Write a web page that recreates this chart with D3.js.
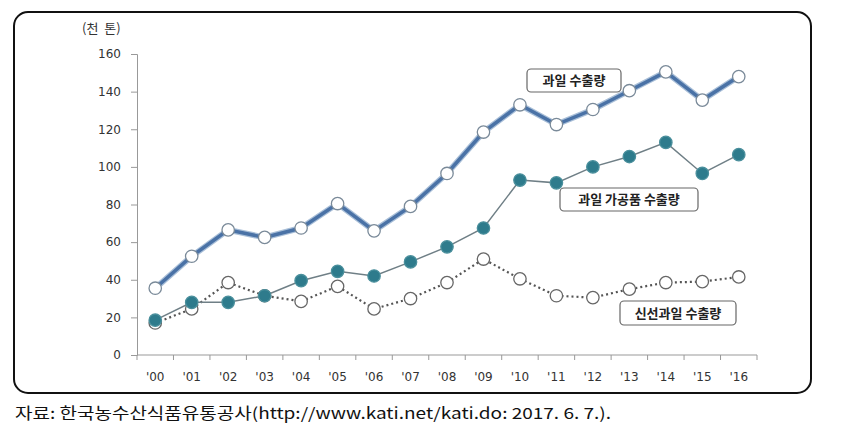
<!DOCTYPE html>
<html><head><meta charset="utf-8">
<script src="https://cdn.jsdelivr.net/npm/d3@7"></script>
<style>body{margin:0;background:#fff;}svg{display:block;}</style>
</head><body>
<svg id="c" width="841" height="447"></svg>
<script>
const years = ["'00","'01","'02","'03","'04","'05","'06","'07","'08","'09","'10","'11","'12","'13","'14","'15","'16"];
const fruitTotal = [35.5,52.5,66.5,62.5,67.5,80.5,66,79,96.5,118.5,133,122.5,130.5,140.5,150.5,135.5,148];
const fruitProcessed = [18.5,28,28,31.5,39.5,44.5,42,49.5,57.5,67.5,93,91.5,100,105.5,113,96.5,106.5];
const fruitFresh = [17,24.5,38.5,31.5,28.5,36.5,24.5,30,38.5,51,40.5,31.5,30.5,35,38.5,39,41.5];
const yTicks = [0,20,40,60,80,100,120,140,160];
const seriesNames = ["과일 수출량","과일 가공품 수출량","신선과일 수출량"];
const unitLabel = "(천  톤)";
const source = "자료:  한국농수산식품유통공사(http://www.kati.net/kati.do:  2017.  6.  7.).";

const svg = d3.select("#c");
const font = "'Noto Sans CJK KR','Noto Sans',sans-serif";

// outer frame
svg.append("rect").attr("x",14).attr("y",12).attr("width",797).attr("height",381)
  .attr("rx",14).attr("fill","#fff").attr("stroke","#111").attr("stroke-width",2);

const x = d3.scaleBand().domain(years).range([137,757]);
const y = d3.scaleLinear().domain([0,160]).range([355,54]);

// y axis
const ya = svg.append("g").attr("transform","translate(137,0)")
  .call(d3.axisLeft(y).tickValues(yTicks).tickSize(6).tickPadding(10));
ya.selectAll("path,line").attr("stroke","#999");
ya.selectAll("text").attr("font-family","'DejaVu Sans',sans-serif").attr("font-size",12).attr("fill","#333");

// x axis
const xa = svg.append("g").attr("transform","translate(0,355)");
xa.append("line").attr("x1",137).attr("x2",757).attr("stroke","#999");
const bounds = years.map(d=>x(d)).concat([x.range()[1]]);
xa.selectAll("line.t").data(bounds).join("line").attr("class","t")
  .attr("x1",d=>d).attr("x2",d=>d).attr("y1",0).attr("y2",5).attr("stroke","#999");
xa.selectAll("text").data(years).join("text")
  .attr("x",d=>x(d)+x.bandwidth()/2).attr("y",26).attr("text-anchor","middle")
  .attr("font-family","'DejaVu Sans',sans-serif").attr("font-size",12).attr("fill","#333").text(d=>d);

svg.append("text").attr("x",82).attr("y",33).attr("font-family",font).attr("font-size",13).attr("fill","#333")
  .attr("xml:space","preserve").style("white-space","pre").text(unitLabel);

const cx = (d,i)=>x(years[i])+x.bandwidth()/2;
const line = d3.line().x(cx).y(d=>y(d));

// fresh (dotted)
svg.append("path").datum(fruitFresh).attr("d",line).attr("fill","none")
  .attr("stroke","#555").attr("stroke-width",2.2).attr("stroke-dasharray","2,3");
// processed
svg.append("path").datum(fruitProcessed).attr("d",line).attr("fill","none")
  .attr("stroke","#6f7f86").attr("stroke-width",1.5);
// total
svg.append("path").datum(fruitTotal).attr("d",line).attr("fill","none")
  .attr("stroke","#a9bfd8").attr("stroke-width",6);
svg.append("path").datum(fruitTotal).attr("d",line).attr("fill","none")
  .attr("stroke","#4a72a6").attr("stroke-width",3.5);

function markers(data, fill, stroke){
  svg.append("g").selectAll("circle").data(data).join("circle")
    .attr("cx",cx).attr("cy",d=>y(d)).attr("r",6.2)
    .attr("fill",fill).attr("stroke",stroke).attr("stroke-width",1.3);
}
markers(fruitFresh,"#fff","#666");
markers(fruitProcessed,"#2e7b8c","#4a8f9c");
markers(fruitTotal,"#fff","#7a8a99");

function label(text, x0, y0, w, h){
  svg.append("rect").attr("x",x0).attr("y",y0).attr("width",w).attr("height",h).attr("rx",4)
    .attr("fill","#fff").attr("stroke","#666").attr("stroke-width",1.2);
  svg.append("text").attr("x",x0+w/2).attr("y",y0+h/2+4.8).attr("text-anchor","middle")
    .attr("font-family",font).attr("font-size",13).attr("font-weight","bold").attr("fill","#222").text(text);
}
label(seriesNames[0],527,69,94,23);
label(seriesNames[1],560,188,138,23);
label(seriesNames[2],620,301,116,24);

svg.append("text").attr("x",15).attr("y",419).attr("font-family","'Liberation Sans Narrow','Noto Sans CJK KR',sans-serif")
  .attr("font-size",15.5).attr("fill","#111").attr("textLength",596).attr("lengthAdjust","spacingAndGlyphs").text(source);
</script>
</body></html>
